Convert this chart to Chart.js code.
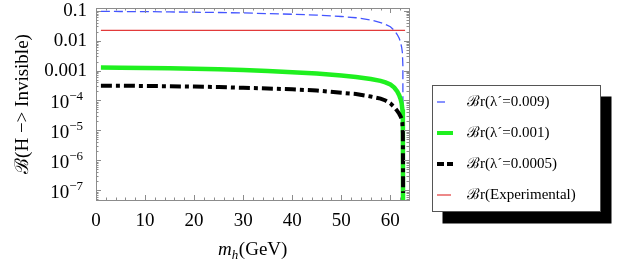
<!DOCTYPE html>
<html>
<head>
<meta charset="utf-8">
<script src="https://cdn.jsdelivr.net/npm/chart.js@4/dist/chart.umd.min.js"></script>
<style>
  html, body { margin: 0; padding: 0; background: #fff; }
  #wrap { position: relative; width: 623px; height: 271px; }
</style>
</head>
<body>
<div id="wrap"><canvas id="br-chart"></canvas></div>
<script>
// Higgs -> invisible branching ratio vs m_h.

var massGeV = [1, 5, 10, 15, 20, 25, 30, 35, 40, 45, 50, 53, 56, 58, 59, 60,
  60.8, 61.4, 61.8, 62.1, 62.3, 62.45, 62.55, 62.6];

var brLambda0009 = [0.095, 0.094, 0.093, 0.091, 0.089, 0.087, 0.084, 0.080,
  0.076, 0.071, 0.064, 0.058, 0.049, 0.040, 0.035, 0.029,
  0.022, 0.016, 0.012, 0.0085, 0.006, 0.004, 0.0015, 1e-9];

var brLambda0010 = [0.00125, 0.00124, 0.00122, 0.00119, 0.00115, 0.00110, 0.00105, 0.00097,
  0.00088, 0.00079, 0.00068, 0.00061, 0.00052, 0.00045, 0.00040, 0.00034,
  0.00027, 0.00020, 0.00015, 0.00011, 0.00008, 0.00005, 0.000025, 1e-9];

var brLambda0005 = [0.00031, 0.00031, 0.000305, 0.000298, 0.00029, 0.00028, 0.000265, 0.00025,
  0.000235, 0.000215, 0.00018, 0.000165, 0.000135, 0.000115, 0.0001, 0.00008,
  0.00006, 0.000045, 0.000036, 0.000029, 0.000024, 0.000018, 0.000008, 8e-8];

var expMassGeV = [1, 63];
var brExperimental = [0.0219, 0.0219];

var xTickValues = [0, 10, 20, 30, 40, 50, 60];
var yTickValues = [1e-7, 1e-6, 1e-5, 1e-4, 0.001, 0.01, 0.1];
var yTickLabels = ['10^-7', '10^-6', '10^-5', '10^-4', '0.001', '0.01', '0.1'];

var SERIF = '"Liberation Serif", "Times New Roman", "DejaVu Serif", serif';

function toPoints(xs, ys) {
  return xs.map(function (x, i) { return { x: x, y: ys[i] }; });
}

// Mathematica-style frame: grey box with inward ticks on all four sides
var framePlugin = {
  id: 'frame',
  afterDatasetsDraw: function (chart) {
    var ctx = chart.ctx, a = chart.chartArea;
    var xs = chart.scales.x, ys = chart.scales.y;
    ctx.save();
    ctx.strokeStyle = '#8c8c8c';
    ctx.lineWidth = 1;
    ctx.strokeRect(Math.round(a.left) + 0.5, Math.round(a.top) + 0.5,
      Math.round(a.right - a.left), Math.round(a.bottom - a.top));
    ctx.beginPath();
    for (var m = 0; m <= 63; m += 2) {
      var px = Math.round(xs.getPixelForValue(m)) + 0.5;
      var len = (m % 10 === 0) ? 5 : 2.5;
      ctx.moveTo(px, a.bottom); ctx.lineTo(px, a.bottom - len);
      ctx.moveTo(px, a.top); ctx.lineTo(px, a.top + len);
    }
    for (var e = -8; e <= -1; e++) {
      for (var k = 1; k <= 9; k++) {
        var v = k * Math.pow(10, e);
        if (v < ys.min || v > ys.max) continue;
        var py = Math.round(ys.getPixelForValue(v)) + 0.5;
        var l = (k === 1) ? 5 : 2.5;
        ctx.moveTo(a.left, py); ctx.lineTo(a.left + l, py);
        ctx.moveTo(a.right, py); ctx.lineTo(a.right - l, py);
      }
    }
    ctx.stroke();
    ctx.restore();
  },
  afterDraw: function (chart) {
    var ctx = chart.ctx, a = chart.chartArea, ys = chart.scales.y;
    ctx.save();
    ctx.fillStyle = '#000';
    ctx.textBaseline = 'middle';
    yTickValues.forEach(function (v, i) {
      var y = ys.getPixelForValue(v);
      var parts = yTickLabels[i].split('^');
      if (parts.length === 1) {
        ctx.font = '19px ' + SERIF;
        ctx.textAlign = 'right';
        ctx.fillText(parts[0], 87, y);
      } else {
        var exp = parts[1].replace('-', '\u2212');
        ctx.font = '13px ' + SERIF;
        var ew = ctx.measureText(exp).width;
        ctx.textAlign = 'left';
        ctx.fillText(exp, 83 - ew, y - 4);
        ctx.font = '19px ' + SERIF;
        ctx.textAlign = 'right';
        ctx.fillText(parts[0], 83 - ew, y + 3);
      }
    });
    // x axis title m_h(GeV)
    ctx.textBaseline = 'alphabetic';
    ctx.textAlign = 'left';
    ctx.font = 'italic 19px ' + SERIF;
    var wm = ctx.measureText('m').width;
    ctx.font = 'italic 13px ' + SERIF;
    var wh = ctx.measureText('h').width;
    ctx.font = '19px ' + SERIF;
    var wg = ctx.measureText('(GeV)').width;
    var x0 = (a.left + a.right) / 2 - (wm + wh + wg) / 2;
    var base = 255;
    ctx.font = 'italic 19px ' + SERIF;
    ctx.fillText('m', x0, base);
    ctx.font = 'italic 13px ' + SERIF;
    ctx.fillText('h', x0 + wm, base + 4);
    ctx.font = '19px ' + SERIF;
    ctx.fillText('(GeV)', x0 + wm + wh + 0.5, base);
    ctx.restore();
  }
};

// Boxed legend with a drop shadow, outside the plot on the right
var legendPlugin = {
  id: 'boxLegend',
  afterDraw: function (chart) {
    var ctx = chart.ctx;
    var bx = 432.5, by = 85.5, bw = 168, bh = 126;
    ctx.save();
    ctx.fillStyle = '#000';
    ctx.fillRect(bx + 10, by + 11, bw + 1, bh + 1);
    ctx.fillStyle = '#fff';
    ctx.fillRect(bx, by, bw, bh);
    ctx.strokeStyle = '#555';
    ctx.lineWidth = 1;
    ctx.strokeRect(bx, by, bw, bh);
    chart.data.datasets.forEach(function (ds, i) {
      var y = 102 + i * 31;
      var sw = ds.swatch;
      ctx.strokeStyle = ds.borderColor;
      ctx.lineWidth = sw.width;
      ctx.setLineDash(sw.dash || []);
      ctx.beginPath();
      ctx.moveTo(437, y);
      ctx.lineTo(437 + sw.len, y);
      ctx.stroke();
      ctx.setLineDash([]);
      ctx.fillStyle = '#000';
      ctx.font = '15px ' + SERIF;
      ctx.textBaseline = 'middle';
      ctx.textAlign = 'left';
      ctx.fillText(ds.label, 467, y);
    });
    ctx.restore();
  }
};

new Chart(document.getElementById('br-chart'), {
  type: 'line',
  data: {
    datasets: [
      {
        label: '\u212Cr(\u03BB\u00B4=0.009)',
        data: toPoints(massGeV, brLambda0009),
        borderColor: '#4455ff', borderWidth: 1.3, borderDash: [9, 4],
        order: 3, swatch: { width: 1.3, len: 8 }
      },
      {
        label: '\u212Cr(\u03BB\u00B4=0.001)',
        data: toPoints(massGeV, brLambda0010),
        borderColor: '#1ff01f', borderWidth: 4.5,
        order: 1, swatch: { width: 4, len: 16 }
      },
      {
        label: '\u212Cr(\u03BB\u00B4=0.0005)',
        data: toPoints(massGeV, brLambda0005),
        borderColor: '#000', borderWidth: 4, borderDash: [11, 4, 4, 4],
        order: 0, swatch: { width: 4, len: 16, dash: [7, 3] }
      },
      {
        label: '\u212Cr(Experimental)',
        data: toPoints(expMassGeV, brExperimental),
        borderColor: '#e23a3a', borderWidth: 1.2,
        order: 2, swatch: { width: 1.2, len: 14 }
      }
    ]
  },
  options: {
    responsive: true,
    maintainAspectRatio: false,
    animation: false,
    layout: { padding: { top: 8, right: 214, left: 0, bottom: 0 } },
    elements: {
      point: { radius: 0 },
      line: { tension: 0, fill: false, borderCapStyle: 'butt' }
    },
    datasets: { line: { clip: 0 } },
    plugins: { legend: { display: false }, tooltip: { enabled: false } },
    scales: {
      x: {
        type: 'linear', min: 0, max: 63.8,
        grid: { display: false }, border: { display: false },
        ticks: {
          color: '#000', font: { family: SERIF, size: 19 },
          padding: 2, autoSkip: false, maxRotation: 0
        },
        afterBuildTicks: function (s) {
          s.ticks = xTickValues.map(function (v) { return { value: v }; });
        },
        afterFit: function (s) { s.height = 71; }
      },
      y: {
        type: 'logarithmic', min: 4.7e-8, max: 0.123,
        grid: { display: false }, border: { display: false },
        ticks: { display: false },
        title: {
          display: true, text: '\u212C(H \u2212> Invisible)', color: '#000',
          font: { family: SERIF, size: 19 }, padding: { top: 12, bottom: 0 }
        },
        afterBuildTicks: function (s) {
          s.ticks = yTickValues.map(function (v) { return { value: v }; });
        },
        afterFit: function (s) { s.width = 96; }
      }
    }
  },
  plugins: [framePlugin, legendPlugin]
});
</script>
</body>
</html>
